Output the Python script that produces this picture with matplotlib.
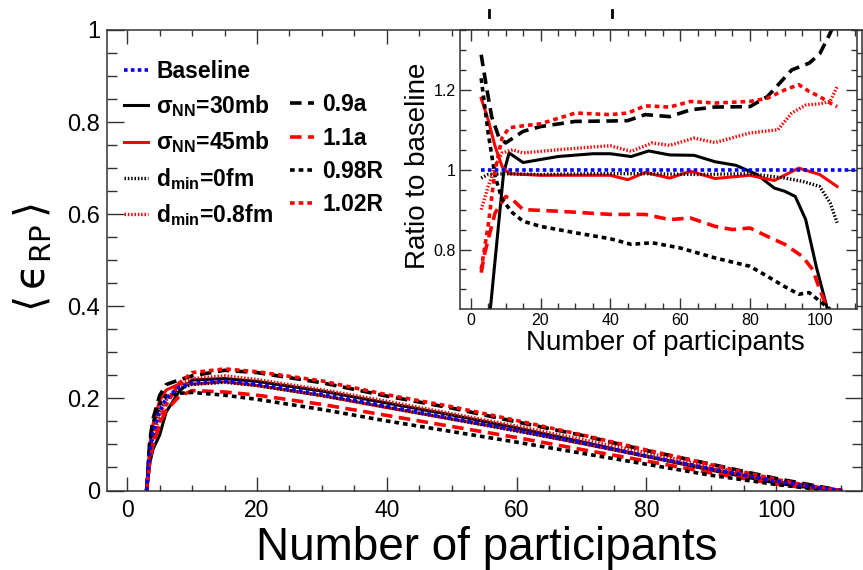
import matplotlib
matplotlib.use('Agg')
import matplotlib.pyplot as plt
from matplotlib.ticker import MultipleLocator, FuncFormatter
from matplotlib.lines import Line2D

plt.rcParams['font.family'] = ['Liberation Sans', 'DejaVu Sans']
plt.rcParams['mathtext.fontset'] = 'custom'
plt.rcParams['mathtext.rm'] = 'Liberation Sans'
plt.rcParams['mathtext.bf'] = 'Liberation Sans:bold'
plt.rcParams['mathtext.it'] = 'Liberation Sans:italic'

# ---- main panel: <eps_RP> vs number of participants ----
npart = [3, 3.5, 4, 5, 6, 8, 10, 15, 20, 30, 40, 50, 60, 70, 80, 90, 100, 105, 110]
baseline = [0, 0.085, 0.125, 0.172, 0.2, 0.224, 0.233, 0.238, 0.231, 0.209, 0.183, 0.157, 0.131, 0.104, 0.075, 0.047, 0.02, 0.009, 0.0]
sig30 = [0, 0.06, 0.09, 0.12, 0.17, 0.215, 0.24, 0.243, 0.237, 0.216, 0.19, 0.164, 0.136, 0.106, 0.074, 0.044, 0.016, 0.006, 0]
sig45 = [0, 0.1, 0.145, 0.194, 0.218, 0.231, 0.231, 0.236, 0.228, 0.206, 0.18, 0.155, 0.13, 0.102, 0.074, 0.046, 0.02, 0.009, 0]
dmin0 = [0, 0.083, 0.123, 0.17, 0.198, 0.221, 0.23, 0.235, 0.228, 0.206, 0.181, 0.155, 0.129, 0.103, 0.074, 0.046, 0.019, 0.008, 0]
dmin08 = [0, 0.077, 0.115, 0.163, 0.196, 0.231, 0.243, 0.249, 0.241, 0.219, 0.194, 0.167, 0.14, 0.111, 0.082, 0.052, 0.023, 0.011, 0]
a09 = [0, 0.11, 0.156, 0.206, 0.23, 0.24, 0.249, 0.261, 0.256, 0.234, 0.205, 0.179, 0.149, 0.12, 0.087, 0.057, 0.026, 0.013, 0]
a11 = [0, 0.065, 0.1, 0.144, 0.174, 0.204, 0.217, 0.214, 0.207, 0.187, 0.163, 0.139, 0.115, 0.089, 0.064, 0.038, 0.014, 0.005, 0]
r098 = [0, 0.105, 0.146, 0.187, 0.206, 0.211, 0.213, 0.207, 0.198, 0.176, 0.151, 0.128, 0.105, 0.081, 0.057, 0.033, 0.013, 0.005, 0]
r102 = [0, 0.068, 0.103, 0.148, 0.186, 0.233, 0.256, 0.264, 0.258, 0.238, 0.208, 0.182, 0.152, 0.121, 0.088, 0.056, 0.024, 0.01, 0]

# ---- inset: ratio to baseline ----
base_n = [3, 110.7]
base_r = [1, 1]
sig30_n = [4.5, 9.4, 11, 15, 25, 35, 40, 46, 51, 57, 64, 70, 76, 82, 87, 90, 93, 96, 99, 102, 104]
sig30_r = [0.55, 0.99, 1.042, 1.018, 1.033, 1.04, 1.04, 1.033, 1.047, 1.037, 1.036, 1.02, 1.011, 0.988, 0.954, 0.946, 0.933, 0.875, 0.758, 0.658, 0.6]
sig45_n = [3, 5, 7, 9, 11, 20, 30, 40, 45, 50, 57, 63, 70, 80, 87, 94, 100, 105]
sig45_r = [1.179, 1.125, 1.058, 1.008, 0.99, 0.986, 0.986, 0.986, 0.975, 0.993, 0.979, 0.996, 0.978, 0.986, 0.973, 1.004, 0.988, 0.958]
dmin0_n = [3, 5, 10, 20, 35, 50, 65, 80, 90, 95, 100, 103, 105]
dmin0_r = [0.979, 0.988, 0.99, 0.988, 0.99, 0.99, 0.988, 0.99, 0.979, 0.971, 0.958, 0.917, 0.867]
dmin08_n = [3, 5, 7, 9, 12, 15, 25, 35, 40, 46, 52, 57, 64, 70, 80, 88, 92, 96, 100, 103, 105]
dmin08_r = [0.9, 0.958, 1.008, 1.042, 1.05, 1.042, 1.05, 1.057, 1.06, 1.046, 1.067, 1.061, 1.079, 1.068, 1.092, 1.1, 1.142, 1.162, 1.165, 1.171, 1.208]
a09_n = [3, 4.5, 6, 8, 10, 15, 20, 30, 40, 45, 50, 57, 63, 70, 80, 85, 92, 97, 100, 103, 105]
a09_r = [1.288, 1.208, 1.133, 1.083, 1.067, 1.096, 1.108, 1.121, 1.122, 1.123, 1.138, 1.133, 1.15, 1.157, 1.158, 1.183, 1.25, 1.267, 1.29, 1.342, 1.38]
a11_n = [3, 4, 5.5, 7, 10, 12, 15, 25, 40, 50, 57, 63, 70, 75, 80, 85, 90, 95, 98, 100, 102, 103]
a11_r = [0.742, 0.79, 0.842, 0.892, 0.933, 0.925, 0.9, 0.896, 0.888, 0.888, 0.875, 0.879, 0.858, 0.85, 0.854, 0.833, 0.813, 0.783, 0.75, 0.7, 0.658, 0.63]
r098_n = [3, 5, 7, 9, 12, 15, 20, 30, 40, 46, 52, 60, 70, 80, 85, 90, 94, 97, 100, 103]
r098_r = [1.229, 1.092, 0.983, 0.925, 0.892, 0.871, 0.858, 0.842, 0.827, 0.813, 0.817, 0.804, 0.779, 0.758, 0.733, 0.707, 0.688, 0.692, 0.671, 0.65]
r102_n = [3, 5, 7, 9, 11, 15, 20, 30, 40, 45, 50, 57, 63, 70, 80, 85, 90, 94, 97, 100, 103, 105]
r102_r = [0.75, 0.86, 1.0, 1.08, 1.105, 1.11, 1.115, 1.142, 1.138, 1.142, 1.16, 1.157, 1.171, 1.167, 1.171, 1.179, 1.2, 1.213, 1.196, 1.183, 1.167, 1.158]

# styles (colour, linestyle, width)
sty = {
    'base': ('#0000ff', (0, (1.0, 0.9)), 2.6),
    'sig30': ('black', '-', 2.2),
    'sig45': ('#ff0000', '-', 2.2),
    'dmin0': ('black', (0, (0.45, 0.55)), 2.4),
    'dmin08': ('#ff0000', (0, (0.45, 0.55)), 2.4),
    'a09': ('black', (0, (3.2, 1.8)), 2.6),
    'a11': ('#ff0000', (0, (3.2, 1.8)), 2.6),
    'r098': ('black', (0, (1.3, 1.1)), 2.6),
    'r102': ('#ff0000', (0, (1.3, 1.1)), 2.6),
}
labels = {
    'base': 'Baseline',
    'sig30': r'σ$_{\mathbf{NN}}$=30mb',
    'sig45': r'σ$_{\mathbf{NN}}$=45mb',
    'dmin0': r'd$_{\mathbf{min}}$=0fm',
    'dmin08': r'd$_{\mathbf{min}}$=0.8fm',
    'a09': '0.9a',
    'a11': '1.1a',
    'r098': '0.98R',
    'r102': '1.02R',
}

main_data = {'sig30': sig30, 'sig45': sig45, 'dmin0': dmin0, 'dmin08': dmin08,
             'a09': a09, 'a11': a11, 'r098': r098, 'r102': r102, 'base': baseline}
ins_data = {'sig30': (sig30_n, sig30_r), 'sig45': (sig45_n, sig45_r),
            'dmin0': (dmin0_n, dmin0_r), 'dmin08': (dmin08_n, dmin08_r),
            'a09': (a09_n, a09_r), 'a11': (a11_n, a11_r),
            'r098': (r098_n, r098_r), 'r102': (r102_n, r102_r),
            'base': (base_n, base_r)}

W, H = 863, 570
fig = plt.figure(figsize=(W / 100, H / 100), dpi=100)
ax = fig.add_axes([107 / W, 1 - 490.5 / H, (862 - 107) / W, (490.5 - 30) / H])

for k, y in main_data.items():
    c, ls, lw = sty[k]
    ax.plot(npart, y, color=c, ls=ls, lw=lw)

fmt = FuncFormatter(lambda v, p: '%g' % round(v, 3))
ax.set_xlim(-3.1, 113.2)
ax.set_ylim(0, 1)
ax.xaxis.set_major_locator(MultipleLocator(20))
ax.xaxis.set_minor_locator(MultipleLocator(5))
ax.yaxis.set_major_locator(MultipleLocator(0.2))
ax.yaxis.set_minor_locator(MultipleLocator(0.05))
ax.yaxis.set_major_formatter(fmt)
ax.tick_params(which='both', direction='in', top=True, right=True, width=1.0, color='#333333')
ax.tick_params(axis='x', which='major', length=10, labelsize=16.5, pad=6)
ax.tick_params(axis='x', which='minor', length=4.5)
ax.tick_params(axis='y', which='major', length=12, labelsize=17, pad=5)
ax.tick_params(axis='y', which='minor', length=7)
for s in ax.spines.values():
    s.set_linewidth(1.1)
    s.set_color('#333333')

fig.text(487 / W, 1 - 560 / H, 'Number of participants', fontsize=33,
         ha='center', va='baseline')
fig.text(33 / W, 1 - 257 / H, r'$\langle\,\mathrm{ϵ}_{\mathrm{RP}}\,\rangle$', fontsize=30,
         rotation=90, ha='center', va='center', math_fontfamily='dejavusans')

# legend: 5 rows in first column, second column starts on row 2
handles = []
for k in ['base', 'sig30', 'sig45', 'dmin0', 'dmin08']:
    c, ls, lw = sty[k]
    handles.append(Line2D([], [], color=c, ls=ls, lw=lw, label=labels[k]))
handles.append(Line2D([], [], color='none', label=' '))
for k in ['a09', 'a11', 'r098', 'r102']:
    c, ls, lw = sty[k]
    handles.append(Line2D([], [], color=c, ls=ls, lw=lw, label=labels[k]))
leg = ax.legend(handles=handles, ncol=2, loc='upper left', frameon=False,
                bbox_to_anchor=(124 / W, 1 - 60 / H), bbox_transform=fig.transFigure,
                borderpad=0, borderaxespad=0, handlelength=1.05, handletextpad=0.35,
                columnspacing=0.75, labelspacing=0.45,
                prop={'size': 16.5, 'weight': 'bold'})

# ---- inset ----
ins = fig.add_axes([460 / W, 1 - 309 / H, (857 - 460) / W, (309 - 30) / H])
ins.set_facecolor('white')
for k, (xn, yr) in ins_data.items():
    c, ls, lw = sty[k]
    ins.plot(xn, yr, color=c, ls=ls, lw=lw)
ins.set_xlim(-3.07, 110.7)
ins.set_ylim(0.651, 1.35)
ins.xaxis.set_major_locator(MultipleLocator(20))
ins.xaxis.set_minor_locator(MultipleLocator(5))
ins.yaxis.set_major_locator(MultipleLocator(0.2))
ins.yaxis.set_minor_locator(MultipleLocator(0.05))
ins.yaxis.set_major_formatter(fmt)
ins.tick_params(which='both', direction='in', top=True, right=True, width=1.0,
                color='#333333', labelsize=11.5, pad=3)
ins.tick_params(which='major', length=8)
ins.tick_params(which='minor', length=4)
for s in ins.spines.values():
    s.set_linewidth(1.1)
    s.set_color('#333333')

fig.text(665 / W, 1 - 350 / H, 'Number of participants', fontsize=20,
         ha='center', va='baseline')
fig.text(431 / W, 1 - 166 / H, 'Ratio to baseline', fontsize=20,
         rotation=90, ha='right', va='center')

# two small stray marks above the frame in the original figure
for xm in (489, 612):
    fig.add_artist(Line2D([xm / W, xm / W], [1 - 10 / H, 1 - 17 / H],
                          transform=fig.transFigure, color='black', lw=2))

fig.savefig('out.png', dpi=100)
